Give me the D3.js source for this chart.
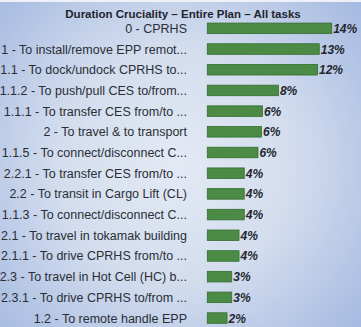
<!DOCTYPE html>
<html lang="en">
	<head>
		<meta charset="utf-8">
		<title>Duration Cruciality</title>
		<script type="text/javascript" src="https://cdn.jsdelivr.net/npm/d3@7"></script>
		<style type="text/css">
			body { margin: 0; }
			svg { display: block; }
		</style>
	</head>
	<body>
		<script type="text/javascript">

			//Width and height
			var w = 361;
			var h = 327;

			var tasks = [ "0 - CPRHS", "1 - To install/remove EPP remot...", "1.1 - To dock/undock CPRHS to...",
						  "1.1.2 - To push/pull CES to/from...", "1.1.1 - To transfer CES from/to ...",
						  "2 - To travel & to transport", "1.1.5 - To connect/disconnect C...",
						  "2.2.1 - To transfer CES from/to ...", "2.2 - To transit in Cargo Lift (CL)",
						  "1.1.3 - To connect/disconnect C...", "2.1 - To travel in tokamak building",
						  "2.1.1 - To drive CPRHS from/to ...", "2.3 - To travel in Hot Cell (HC) b...",
						  "2.3.1 - To drive CPRHS to/from ...", "1.2 - To remote handle EPP" ];

			var cruciality = [ 14.0, 12.6, 12.4, 8.0, 6.2, 6.1, 5.7, 4.16, 4.16, 4.16,
							   3.57, 3.57, 2.75, 2.75, 2.22 ];

			var title = "Duration Cruciality \u2013 Entire Plan \u2013 All tasks";

			var x0 = 207.3;

			var xScale = d3.scaleLinear()
							.domain([0, 14])
							.range([0, 124.4]);

			var yScale = d3.scaleBand()
							.domain(d3.range(tasks.length))
							.range([18, 328.4])
							.paddingInner(0.49)
							.paddingOuter(0.245);

			//Create SVG element
			var svg = d3.select("body")
						.append("svg")
						.attr("width", w)
						.attr("height", h);

			//Background
			var grad = svg.append("defs")
						  .append("radialGradient")
						  .attr("id", "bg")
						  .attr("gradientUnits", "userSpaceOnUse")
						  .attr("cx", 175)
						  .attr("cy", 165)
						  .attr("r", 260);
			grad.append("stop").attr("offset", "0%").attr("stop-color", "#e4eaf4");
			grad.append("stop").attr("offset", "45%").attr("stop-color", "#d3ddee");
			grad.append("stop").attr("offset", "100%").attr("stop-color", "#a0b6df");

			svg.append("rect")
			   .attr("width", w)
			   .attr("height", h)
			   .attr("fill", "url(#bg)");

			svg.append("rect")
			   .attr("width", w)
			   .attr("height", 2)
			   .attr("fill", "#eef1f7");

			//Title
			svg.append("text")
			   .text(title)
			   .attr("x", 183)
			   .attr("y", 17.5)
			   .attr("text-anchor", "middle")
			   .attr("font-family", "Liberation Sans, Arial, sans-serif")
			   .attr("font-size", "11.5px")
			   .attr("font-weight", "bold")
			   .attr("fill", "#1e2530");

			//Create bars
			svg.selectAll("rect.bar")
			   .data(cruciality)
			   .enter()
			   .append("rect")
			   .attr("class", "bar")
			   .attr("x", x0)
			   .attr("y", function(d, i) {
			   		return yScale(i);
			   })
			   .attr("width", function(d) {
			   		return xScale(d);
			   })
			   .attr("height", yScale.bandwidth())
			   .attr("fill", "#4b8b45")
			   .attr("stroke", "#336e30")
			   .attr("stroke-width", 0.8);

			//Task labels
			svg.selectAll("text.task")
			   .data(tasks)
			   .enter()
			   .append("text")
			   .attr("class", "task")
			   .text(function(d) {
			   		return d;
			   })
			   .attr("text-anchor", "end")
			   .attr("x", 187)
			   .attr("y", function(d, i) {
			   		return yScale(i) + yScale.bandwidth() / 2 + 4.5;
			   })
			   .attr("font-family", "Liberation Sans, Arial, sans-serif")
			   .attr("font-size", "12.5px")
			   .attr("fill", "#2a2e36");

			//Value labels
			svg.selectAll("text.value")
			   .data(cruciality)
			   .enter()
			   .append("text")
			   .attr("class", "value")
			   .text(function(d) {
			   		return Math.round(d) + "%";
			   })
			   .attr("x", function(d) {
			   		return x0 + xScale(d) + 1.5;
			   })
			   .attr("y", function(d, i) {
			   		return yScale(i) + yScale.bandwidth() / 2 + 4.5;
			   })
			   .attr("font-family", "Liberation Sans, Arial, sans-serif")
			   .attr("font-size", "12px")
			   .attr("font-weight", "bold")
			   .attr("font-style", "italic")
			   .attr("fill", "#23272f");

		</script>
	</body>
</html>
